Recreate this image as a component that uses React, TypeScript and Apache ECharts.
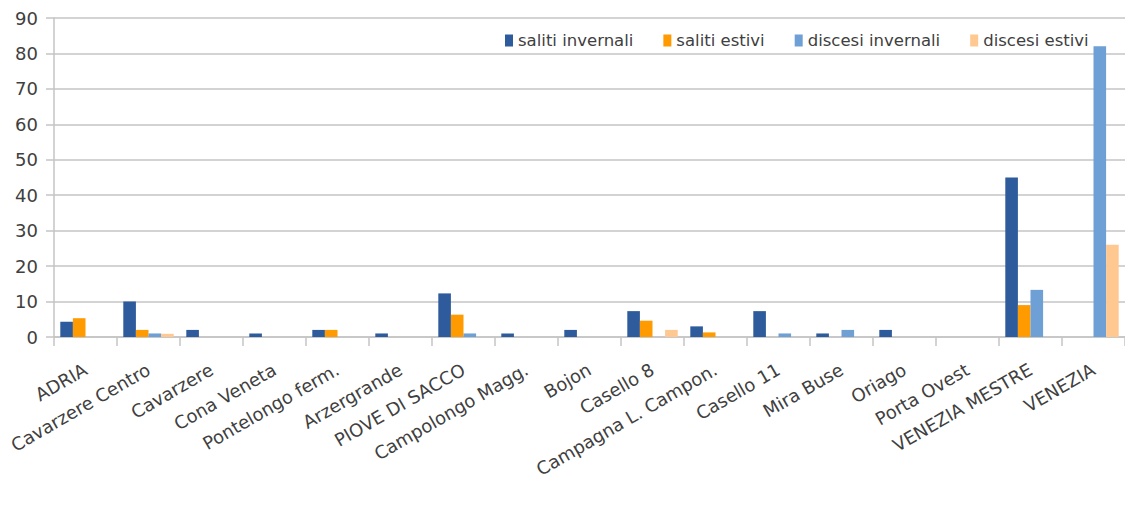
import React, { useEffect, useRef } from "react";
import * as echarts from "echarts";

// Stops along the line and passenger counts per stop
const categories = [
  "ADRIA",
  "Cavarzere Centro",
  "Cavarzere",
  "Cona Veneta",
  "Pontelongo ferm.",
  "Arzergrande",
  "PIOVE DI SACCO",
  "Campolongo Magg.",
  "Bojon",
  "Casello 8",
  "Campagna L. Campon.",
  "Casello 11",
  "Mira Buse",
  "Oriago",
  "Porta Ovest",
  "VENEZIA MESTRE",
  "VENEZIA",
];

const salitiInvernali = [4.3, 10, 2, 1, 2, 1, 12.3, 1, 2, 7.3, 3, 7.3, 1, 2, 0, 45, 0];
const salitiEstivi = [5.3, 2, 0, 0, 2, 0, 6.3, 0, 0, 4.6, 1.3, 0, 0, 0, 0, 9, 0];
const disceseInvernali = [0, 1, 0, 0, 0, 0, 1, 0, 0, 0, 0, 1, 2, 0, 0, 13.3, 82];
const discesiEstivi = [0, 0.9, 0, 0, 0, 0, 0, 0, 0, 2, 0, 0, 0, 0, 0, 0, 26];

const seriesNames = ["saliti invernali", "saliti estivi", "discesi invernali", "discesi estivi"];
const seriesColors = ["#2d5b9c", "#ff9a00", "#6e9fd5", "#ffc890"];

const FONT = "DejaVu Sans";
const TEXT = "#404040";
const GRID = "#c4c4c4";

export default function App() {
  const ref = useRef<HTMLDivElement>(null);

  useEffect(() => {
    if (!ref.current) return;
    const chart = echarts.init(ref.current, undefined, { renderer: "svg" });
    const values = [salitiInvernali, salitiEstivi, disceseInvernali, discesiEstivi];

    chart.setOption({
      animation: false,
      backgroundColor: "#ffffff",
      textStyle: { fontFamily: FONT, color: TEXT },
      grid: {
        left: 54,
        right: 0,
        top: 18,
        bottom: 183,
        containLabel: false,
        outerBoundsMode: "none",
      },
      legend: {
        data: seriesNames,
        left: 500,
        top: 27,
        icon: "rect",
        itemWidth: 8,
        itemHeight: 12,
        itemGap: 30,
        textStyle: { fontFamily: FONT, fontSize: 16.5, color: TEXT },
      },
      xAxis: {
        type: "category",
        data: categories,
        boundaryGap: true,
        axisLine: { show: true, lineStyle: { color: GRID, width: 1.5 } },
        axisTick: { show: true, length: 9, lineStyle: { color: GRID, width: 1.5 } },
        axisLabel: {
          interval: 0,
          rotate: 30,
          margin: 31,
          fontFamily: FONT,
          fontSize: 18,
          color: TEXT,
        },
      },
      yAxis: {
        type: "value",
        min: 0,
        max: 90,
        interval: 10,
        axisLine: { show: true, lineStyle: { color: GRID, width: 1.5 } },
        axisTick: { show: true, length: 8, lineStyle: { color: GRID, width: 1.5 } },
        axisLabel: { margin: 16, fontFamily: FONT, fontSize: 18, color: TEXT },
        splitLine: { show: true, lineStyle: { color: GRID, width: 1.5 } },
      },
      series: seriesNames.map((name, i) => ({
        name,
        type: "bar",
        data: values[i],
        barGap: "0%",
        barCategoryGap: "20%",
        itemStyle: { color: seriesColors[i] },
      })),
    });

    return () => chart.dispose();
  }, []);

  return (
    <div
      ref={ref}
      style={{
        position: "fixed",
        left: 0,
        top: 0,
        width: 1125,
        height: 520,
        background: "#ffffff",
      }}
    />
  );
}
